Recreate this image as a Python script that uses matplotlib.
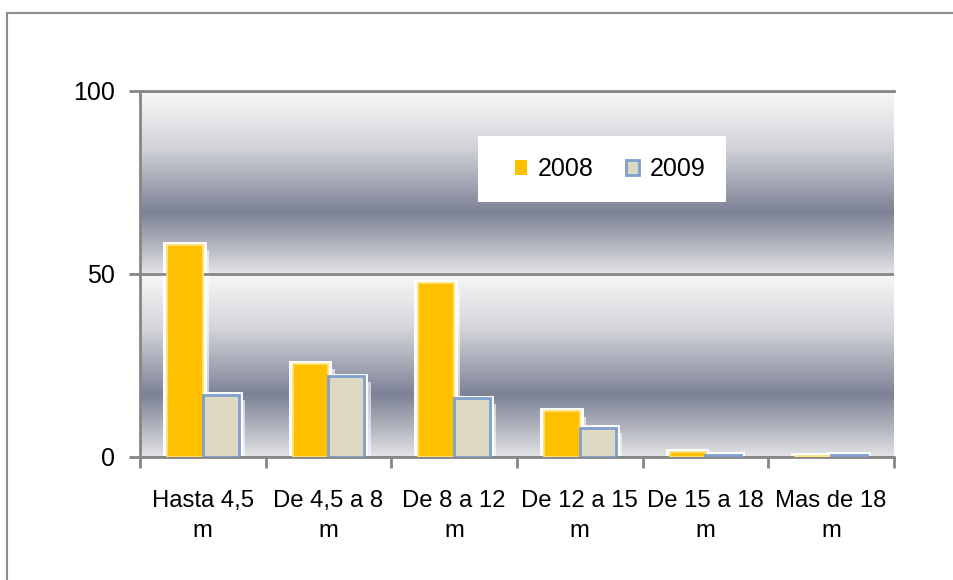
#!/usr/bin/env python3

"""
Bar chart of boats per length class, 2008 vs 2009 (Excel look)
"""

import numpy as np
import matplotlib.pyplot as plt
from matplotlib.colors import LinearSegmentedColormap
from matplotlib.lines import Line2D
from matplotlib.patches import Patch, Rectangle

# data
categories = ['Hasta 4,5\nm', 'De 4,5 a 8\nm', 'De 8 a 12\nm',
              'De 12 a 15\nm', 'De 15 a 18\nm', 'Mas de 18\nm']
values_2008 = [58, 25.5, 47.5, 12.5, 1.3, 0.2]
values_2009 = [17, 22, 16, 8, 0.5, 0.5]
series_names = ['2008', '2009']
y_ticks = [0, 50, 100]

plt.rcParams['font.family'] = ['Liberation Sans', 'DejaVu Sans']
FS = 18
GREY = '#868686'

fig = plt.figure(figsize=(9.54, 5.8), dpi=100)
ax = fig.add_axes([140 / 954, 1 - 457 / 580, 754 / 954, 366 / 580])

# outer chart frame (cut at right and bottom)
fig.add_artist(Line2D([7 / 954, 7 / 954], [1 - 13 / 580, -0.1],
                      transform=fig.transFigure, color='#8c8c8c', lw=1.5))
fig.add_artist(Line2D([7 / 954, 1.1], [1 - 13 / 580, 1 - 13 / 580],
                      transform=fig.transFigure, color='#8c8c8c', lw=1.5))

# plot area gradient, repeated for each band between gridlines
band_cmap = LinearSegmentedColormap.from_list('band', [
    (0.0, '#f8f8f8'), (0.3, '#d4d5da'), (0.66, '#7d8296'),
    (0.86, '#b7bac3'), (1.0, '#e4e4e6')])
grad = np.linspace(0, 1, 256).reshape(-1, 1)
n = len(categories)
for lo, hi in zip(y_ticks[:-1], y_ticks[1:]):
    ax.imshow(grad, cmap=band_cmap, aspect='auto', origin='upper',
              extent=(-0.5, n - 0.5, lo, hi), zorder=0)

x = np.arange(n)
w = 1 / 3.5
x08 = x - w / 2
x09 = x + w / 2

# soft white shadows / halos behind bars
for xs, vals in ((x08, values_2008), (x09, values_2009)):
    vals = np.array(vals)
    ax.bar(xs + 0.05, np.maximum(vals - 1.5, 0) + 1.2, w, bottom=-1.2,
           color='white', alpha=0.6, zorder=2, lw=0)
    ax.bar(xs, vals + 2.0, w + 0.06, bottom=-1.2, color='white',
           alpha=0.95, zorder=2, lw=0)

ax.bar(x08, values_2008, w, color='#ffc000', edgecolor='#ffe27a',
       lw=1.2, zorder=3, label=series_names[0])
ax.bar(x09, values_2009, w, color='#ddd9c3', edgecolor='#7f9fcf',
       lw=2, zorder=3, label=series_names[1])

ax.set_xlim(-0.5, n - 0.5)
ax.set_ylim(0, 100)

# gridlines and axes
ax.set_yticks(y_ticks)
ax.yaxis.grid(True, color=GREY, lw=2, zorder=1)
ax.set_axisbelow(False)
for s in ('left', 'bottom', 'top'):
    ax.spines[s].set_color(GREY)
    ax.spines[s].set_linewidth(2)
    ax.spines[s].set_zorder(2.5)
ax.spines['right'].set_visible(False)

ax.tick_params(axis='y', length=8, width=2, color=GREY, pad=10,
               labelsize=FS)
ax.set_xticks(x)
ax.set_xticklabels(categories, fontsize=17.2, linespacing=1.45)
ax.set_xticks(np.arange(n + 1) - 0.5, minor=True)
ax.tick_params(axis='x', which='major', length=0, pad=24)
ax.tick_params(axis='x', which='minor', length=8, width=2, color=GREY)

# legend on its own white box
fig.add_artist(Rectangle((478 / 954, 1 - 202 / 580), 248 / 954, 66 / 580,
                         transform=fig.transFigure, facecolor='white',
                         edgecolor='none', zorder=4))
handles = [Patch(facecolor='#ffc000', edgecolor='#ffc000', lw=0),
           Patch(facecolor='#ddd9c3', edgecolor='#7f9fcf', lw=2)]
leg = fig.legend(handles, series_names, loc='center', ncol=2,
                 bbox_to_anchor=(610 / 954, 1 - 169 / 580),
                 bbox_transform=fig.transFigure, frameon=False,
                 fontsize=FS, handlelength=0.5, handleheight=0.55,
                 handletextpad=0.42, columnspacing=1.3)
leg.set_zorder(5)

fig.savefig('out.png', dpi=100, facecolor='white')
